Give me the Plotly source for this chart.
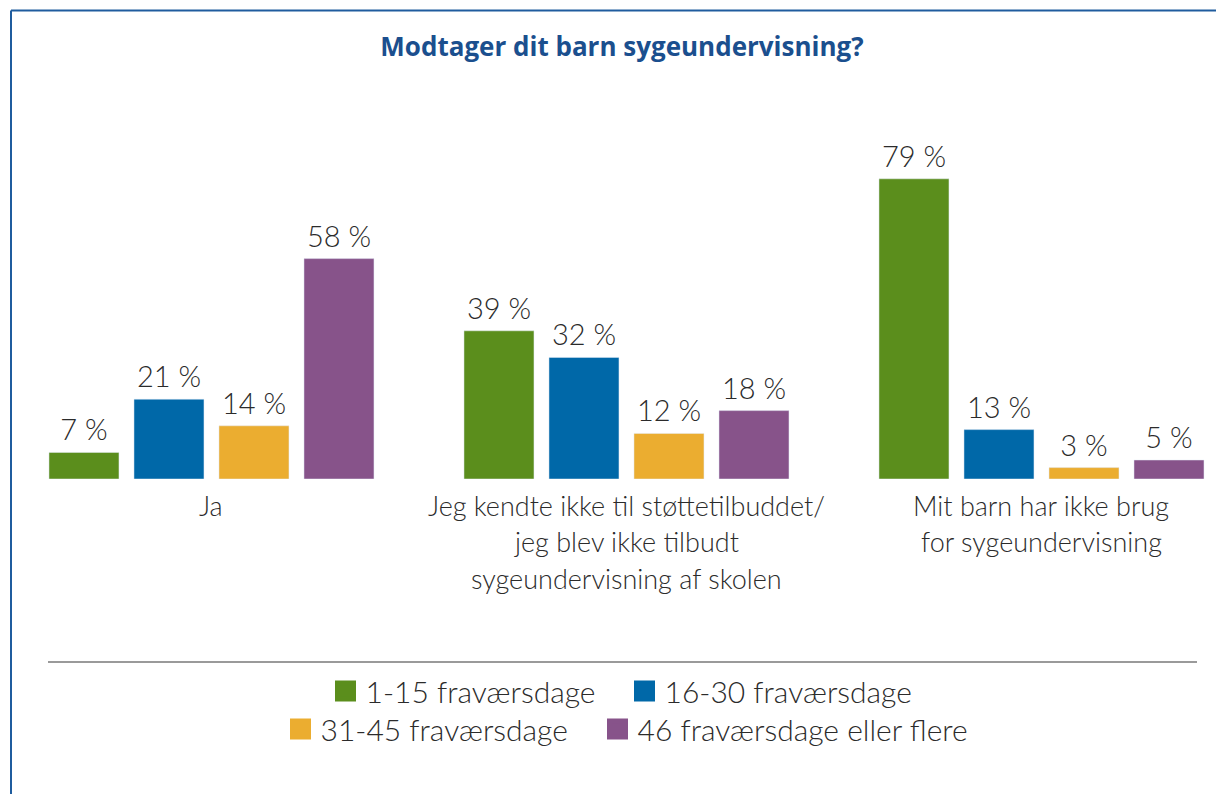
import plotly.graph_objects as go

category_lines = [["Ja"],
                  ["Jeg kendte ikke til støttetilbuddet/", "jeg blev ikke tilbudt", "sygeundervisning af skolen"],
                  ["Mit barn har ikke brug", "for sygeundervisning"]]
categories = ["<br>".join(lines) for lines in category_lines]
series_names = ["1-15 fraværsdage", "16-30 fraværsdage", "31-45 fraværsdage", "46 fraværsdage eller flere"]
v_1_15 = [7, 39, 79]
v_16_30 = [21, 32, 13]
v_31_45 = [14, 12, 3]
v_46 = [58, 18, 5]
values = [v_1_15, v_16_30, v_31_45, v_46]
colors = ["#5B8E1C", "#0068A8", "#EBAD30", "#87538A"]

FONT = "Lato"
TXT = "#2B2B2B"
BARGAP = 0.1807

fig = go.Figure()
for i, (name, vals, col) in enumerate(zip(series_names, values, colors)):
    fig.add_trace(go.Bar(
        x=categories, y=vals, name=name, marker_color=col, showlegend=False,
        offsetgroup=f"g{i}", alignmentgroup="a", hoverinfo="skip",
    ))
for i, (name, vals) in enumerate(zip(series_names, values)):
    fig.add_trace(go.Scatter(
        x=categories, y=vals, mode="markers+text", showlegend=False, hoverinfo="skip",
        text=[f"{v} %" for v in vals], textposition="top center",
        marker=dict(size=6, color="rgba(0,0,0,0)"), offsetgroup=f"g{i}", alignmentgroup="a",
        textfont=dict(family=FONT, size=29, color=TXT, weight=300), cliponaxis=False,
    ))

legend_ids = ["legend", "legend2", "legend3", "legend4"]
for i, (name, col) in enumerate(zip(series_names, colors)):
    fig.add_trace(go.Scatter(
        x=[None], y=[None], mode="markers", name=name,
        marker=dict(symbol="square", size=16, color=col, line=dict(color=col, width=5)),
        legend=legend_ids[i],
    ))

BASE = 471
T = 148
ph = BASE - T
L = 22
pw = 1184

# legend box left edges and row centres (figure pixels)
leg_left = [327, 626, 282, 599]
leg_row = [683, 683, 721, 721]
legends = {}
for lid, lx, ly in zip(legend_ids, leg_left, leg_row):
    legends[lid] = dict(orientation="h", xref="container", x=(lx - 9.5) / 1224, xanchor="left",
                        yref="container", y=1 - ly / 794, yanchor="middle",
                        font=dict(family=FONT, size=30, color=TXT, weight=300),
                        bgcolor="rgba(0,0,0,0)")

fig.update_layout(
    width=1224, height=794,
    margin=dict(l=L, r=1224 - L - pw, t=T, b=794 - BASE),
    paper_bgcolor="white", plot_bgcolor="white",
    barmode="group", bargap=BARGAP, bargroupgap=0.1765,
    scattermode="group", scattergap=BARGAP,
    title=dict(text="<b>Modtager dit barn sygeundervisning?</b>",
               font=dict(family="Open Sans", size=26, color="#1B4F8E"),
               x=614/1224, xref="container", xanchor="center",
               y=1 - 39/794, yref="container", yanchor="middle"),
    xaxis=dict(range=[-0.4373, 2.4157], showline=False, showgrid=False, zeroline=False,
               ticks="", showticklabels=False),
    yaxis=dict(range=[0, 85], visible=False),
    showlegend=True,
    **legends,
)

# category labels, one annotation per text line
for cat, lines in zip(categories, category_lines):
    for j, line in enumerate(lines):
        fig.add_annotation(x=cat, y=0, xref="x", yref="y", text=line, showarrow=False,
                           yanchor="middle", yshift=-(26 + 36.5 * j),
                           font=dict(family=FONT, size=27, color=TXT, weight=300))

def py(pix):
    return (BASE - pix) / ph
def px(pix):
    return (pix - L) / pw

# separator line above legend
fig.add_shape(type="line", xref="paper", yref="paper", x0=px(40), x1=px(1189), y0=py(654), y1=py(654),
              line=dict(color="#9A9A9A", width=2))
# frame (top and left edges)
fig.add_shape(type="line", xref="paper", yref="paper", x0=px(3), x1=px(1230), y0=py(2.5), y1=py(2.5),
              line=dict(color="#1F5C9E", width=2))
fig.add_shape(type="line", xref="paper", yref="paper", x0=px(3), x1=px(3), y0=py(2.5), y1=py(800),
              line=dict(color="#1F5C9E", width=2))

fig.write_html("out.html")
